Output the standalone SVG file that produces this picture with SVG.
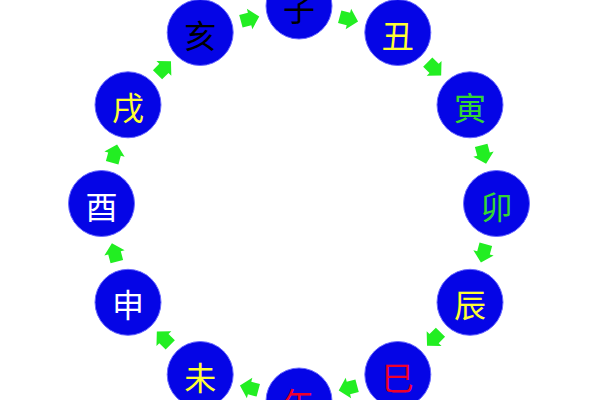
<svg xmlns="http://www.w3.org/2000/svg" xmlns:xlink="http://www.w3.org/1999/xlink" width="600" height="400" viewBox="0 0 600 400">
<style>
.n circle{fill:#0505E6;stroke:#6a6aff;stroke-width:1}
.n text{font-family:"Noto Sans CJK SC","Noto Sans CJK JP",sans-serif;font-size:32px;text-anchor:middle;dominant-baseline:central}
.arr{fill:#22EE22}
.k{fill:#000}.y{fill:#FFFF33}.g{fill:#33D633}.r{fill:#F0002A}.w{fill:#FFFFFF}
</style>
<defs>
<polygon id="ar" points="-9,-6.5 0,-6.5 0,-10.5 10,0 0,10.5 0,6.5 -9,6.5"/>
</defs>
<rect width="600" height="400" fill="#fff"/>
<g id="connectors" class="arr">
<use xlink:href="#ar" transform="translate(348.4,19) rotate(15)"/>
<use xlink:href="#ar" transform="translate(434.1,68.4) rotate(45)"/>
<use xlink:href="#ar" transform="translate(483.5,154.1) rotate(75)"/>
<use xlink:href="#ar" transform="translate(483.5,252.9) rotate(105)"/>
<use xlink:href="#ar" transform="translate(434.1,338.6) rotate(135)"/>
<use xlink:href="#ar" transform="translate(348.4,388) rotate(165)"/>
<use xlink:href="#ar" transform="translate(249.6,388) rotate(195)"/>
<use xlink:href="#ar" transform="translate(163.9,338.6) rotate(225)"/>
<use xlink:href="#ar" transform="translate(114.5,252.9) rotate(255)"/>
<use xlink:href="#ar" transform="translate(114.5,154.1) rotate(285)"/>
<use xlink:href="#ar" transform="translate(163.9,68.4) rotate(315)"/>
<use xlink:href="#ar" transform="translate(249.6,19) rotate(345)"/>
</g>
<g id="zi" class="n"><circle cx="299" cy="6" r="33"/><text class="k" x="299" y="7">子</text></g>
<g id="chou" class="n"><circle cx="397.8" cy="32.5" r="33"/><text class="y" x="397.8" y="33.5">丑</text></g>
<g id="yin" class="n"><circle cx="470" cy="104.8" r="33"/><text class="g" x="470" y="105.8">寅</text></g>
<g id="mao" class="n"><circle cx="496.5" cy="203.5" r="33"/><text class="g" x="496.5" y="204.5">卯</text></g>
<g id="chen" class="n"><circle cx="470" cy="302.3" r="33"/><text class="y" x="470" y="303.3">辰</text></g>
<g id="si" class="n"><circle cx="397.8" cy="374.5" r="33"/><text class="r" x="397.8" y="375.5">巳</text></g>
<g id="wu" class="n"><circle cx="299" cy="401" r="33"/><text class="r" x="299" y="402">午</text></g>
<g id="wei" class="n"><circle cx="200.2" cy="374.5" r="33"/><text class="y" x="200.2" y="375.5">未</text></g>
<g id="shen" class="n"><circle cx="128" cy="302.3" r="33"/><text class="w" x="128" y="303.3">申</text></g>
<g id="you" class="n"><circle cx="101.5" cy="203.5" r="33"/><text class="w" x="101.5" y="204.5">酉</text></g>
<g id="xu" class="n"><circle cx="128" cy="104.8" r="33"/><text class="y" x="128" y="105.8">戌</text></g>
<g id="hai" class="n"><circle cx="200.2" cy="32.5" r="33"/><text class="k" x="200.2" y="33.5">亥</text></g>
</svg>
